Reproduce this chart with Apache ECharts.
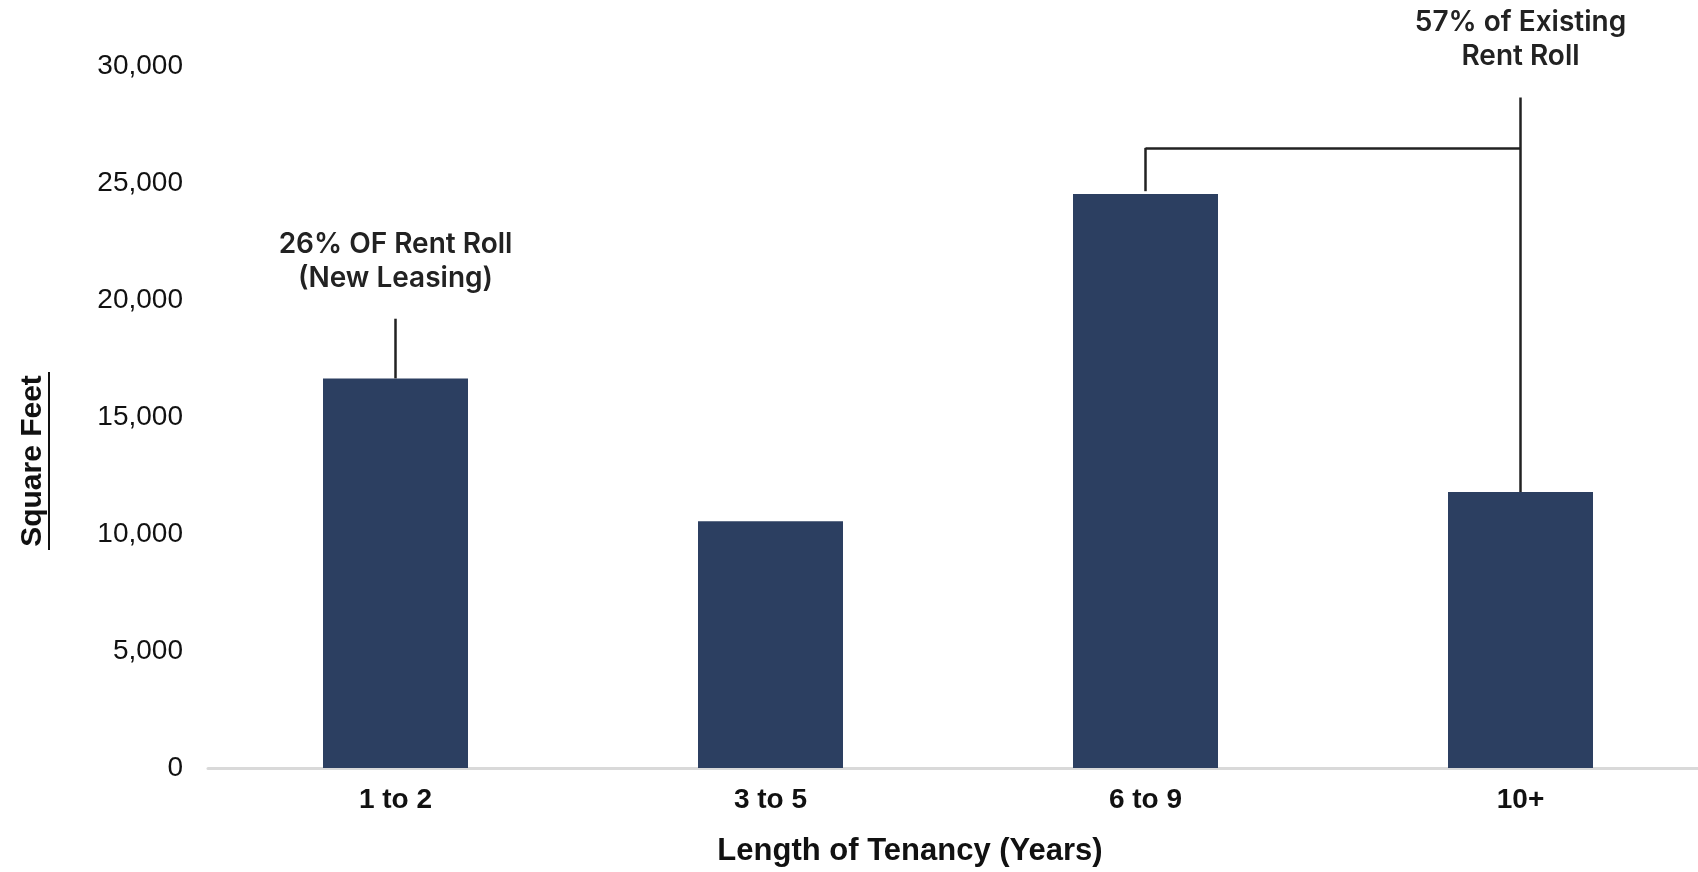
<!DOCTYPE html>
<html>
<head>
<meta charset="utf-8">
<script src="https://cdn.jsdelivr.net/npm/echarts@6/dist/echarts.min.js"></script>
<style>
  html, body { margin: 0; padding: 0; background: #fff; }
  #main { width: 1698px; height: 872px; }
</style>
</head>
<body>
<div id="main"></div>
<script>
const categories = ["1 to 2", "3 to 5", "6 to 9", "10+"];
const squareFeet = [16650, 10550, 24530, 11800];
const yTicks = [0, 5000, 10000, 15000, 20000, 25000, 30000];

// callout texts
const noteNew = "26% OF Rent Roll\n(New Leasing)";
const noteExisting = "57% of Existing\nRent Roll";

const lineStyle = { color: "#222", width: 2.5, type: "solid" };

const chart = echarts.init(document.getElementById("main"));

chart.setOption({
  animation: false,
  backgroundColor: "#fff",
  grid: { left: 208, width: 1500, top: 66, height: 702, outerBoundsMode: "none" },
  xAxis: {
    type: "category",
    data: categories,
    axisTick: { show: false },
    axisLine: { lineStyle: { color: "#d9d9d9", width: 3 } },
    axisLabel: {
      margin: 18,
      color: "#111",
      fontSize: 28,
      fontWeight: "bold",
      fontFamily: "Liberation Sans"
    }
  },
  yAxis: {
    type: "value",
    min: yTicks[0],
    max: yTicks[yTicks.length - 1],
    interval: 5000,
    splitLine: { show: false },
    axisLine: { show: false },
    axisTick: { show: false },
    axisLabel: {
      margin: 25,
      color: "#111",
      fontSize: 28,
      fontFamily: "Liberation Sans",
      formatter: v => v.toLocaleString("en-US")
    }
  },
  series: [
    {
      type: "bar",
      data: squareFeet,
      barWidth: 145,
      itemStyle: { color: "#2c3f61" },
      markLine: {
        silent: true,
        symbol: ["none", "none"],
        label: { show: false },
        lineStyle: lineStyle,
        data: [
          [{ coord: ["1 to 2", 16650] }, { coord: ["1 to 2", 19200] }],
          [{ coord: ["10+", 11800] }, { coord: ["10+", 28650] }],
          [{ coord: ["6 to 9", 26500] }, { coord: ["10+", 26500] }],
          [{ coord: ["6 to 9", 26500] }, { coord: ["6 to 9", 24650] }]
        ]
      }
    }
  ]
});

const p1 = chart.convertToPixel({ seriesIndex: 0 }, ["1 to 2", 21624]);
const p2 = chart.convertToPixel({ seriesIndex: 0 }, ["10+", 31111]);
const noteStyle = {
  fill: "#222",
  fontSize: 28,
  fontWeight: 600,
  fontFamily: "Inter",
  lineHeight: 34,
  textAlign: "center",
  textVerticalAlign: "middle"
};

chart.setOption({
  graphic: [
    { type: "text", x: p1[0], y: p1[1], style: Object.assign({ text: noteNew }, noteStyle) },
    { type: "text", x: p2[0], y: p2[1], style: Object.assign({ text: noteExisting }, noteStyle) },
    {
      type: "text",
      x: 33, y: 461,
      rotation: Math.PI / 2,
      style: {
        text: "Square Feet",
        fill: "#111",
        fontSize: 30,
        fontWeight: "bold",
        fontFamily: "Liberation Sans",
        textAlign: "center",
        textVerticalAlign: "middle"
      }
    },
    {
      type: "line",
      shape: { x1: 49, y1: 372, x2: 49, y2: 550 },
      style: { stroke: "#111", lineWidth: 2 }
    },
    {
      type: "text",
      x: 910, y: 851,
      style: {
        text: "Length of Tenancy (Years)",
        fill: "#111",
        fontSize: 31,
        fontWeight: "bold",
        fontFamily: "Liberation Sans",
        textAlign: "center",
        textVerticalAlign: "middle"
      }
    }
  ]
});
</script>
</body>
</html>
